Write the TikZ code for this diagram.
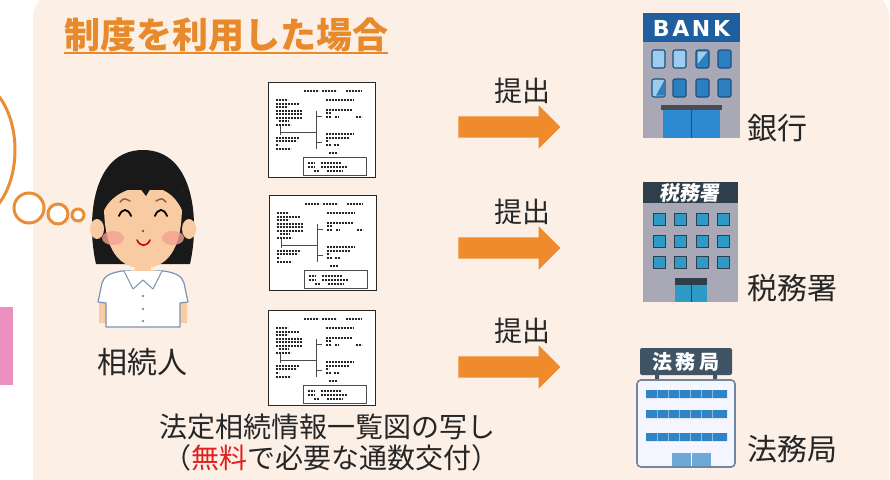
\documentclass[tikz,border=0pt]{standalone}
\usepackage{fontspec}
\newfontfamily\jp{Noto Sans CJK JP}
\newfontfamily\banksf[LetterSpace=12]{DejaVu Sans}
\usetikzlibrary{positioning,shapes.arrows}

\definecolor{panel}{HTML}{FCF0E6}
\definecolor{titleor}{HTML}{E8892B}
\definecolor{arrowor}{HTML}{EF8A2D}
\definecolor{freered}{HTML}{E0201C}
\definecolor{bubble}{HTML}{EA8E35}
\definecolor{pinkbar}{HTML}{EB8FBE}
\definecolor{skin}{HTML}{F8CBA3}
\definecolor{cheek}{HTML}{F3A193}
\definecolor{brow}{HTML}{8A5A3A}
\definecolor{shirtln}{HTML}{7D93B5}
\definecolor{bankblue}{HTML}{1F5FA0}
\definecolor{wall}{HTML}{A9A8B6}
\definecolor{winlight}{HTML}{9CCDEE}
\definecolor{windark}{HTML}{2C80C2}
\definecolor{winedge}{HTML}{1C4F7C}
\definecolor{doorblue}{HTML}{2B8AD0}
\definecolor{slate}{HTML}{2F3E4B}
\definecolor{taxwin}{HTML}{2E9BC6}
\definecolor{signgray}{HTML}{3F5566}
\definecolor{bureauln}{HTML}{6D87A0}
\definecolor{barblue}{HTML}{2F84C6}

\tikzset{
  txt/.style={draw=black!85, line width=2pt, dash pattern=on 2.2pt off 0.8pt},
  chart/.pic={
    \begin{scope}[shift={(-53.5,-47.5)}]
      \draw[txt] (35,8) -- (50,8) (53,8) -- (68,8) (77,8) -- (93,8);
      \draw[txt] (7,17) -- (19,17) (7,21) -- (30,21) (7,24) -- (19,24) (7,28) -- (33,28)
                 (7,31) -- (33,31) (7,35) -- (33,35) (10,38) -- (20,38) (7,42) -- (22,42);
      \draw[txt] (57,17) -- (85,17) (57,27) -- (83,27) (57,30) -- (62,30) (57,34) -- (62,34)
                 (66,34) -- (70,34) (87,34) -- (93,34);
      \draw[txt] (57,51) -- (85,51) (57,55) -- (80,55) (57,58) -- (60,58) (57,62) -- (62,62)
                 (65,62) -- (70,62);
      \draw[txt] (7,55) -- (30,55) (7,58) -- (28,58) (7,62) -- (10,62) (7,66) -- (22,66)
                 (60,70) -- (68,70);
      \draw[black!70, line width=0.6pt] (12,43) -- (12,52) (12,50) -- (48,50) (48,28) -- (48,66)
                 (48,34) -- (53,34) (48,60) -- (53,60);
      \draw[black!70, line width=0.7pt] (35,75) rectangle (98,93);
      \draw[txt] (39,80) -- (46,80) (52,80) -- (72,80) (39,84) -- (46,84) (52,84) -- (78,84)
                 (45,88) -- (50,88) (58,88) -- (74,88);
    \end{scope}
  }
}

\begin{document}
\begin{tikzpicture}[x=1pt,y=-1pt,every node/.style={inner sep=0pt},
    lbl/.style={font=\jp\fontsize{30}{32}\selectfont, text=black!85},
    say/.style={font=\jp\fontsize{28}{30}\selectfont, text=black!85},
    sheet/.style={draw=black!85, line width=1.2pt, fill=white, minimum width=107pt, minimum height=95pt},
    sarrow/.style={single arrow, fill=arrowor, minimum height=102pt, minimum width=43pt,
      inner xsep=0pt, inner ysep=10.5pt, single arrow head extend=11pt, single arrow head indent=0pt},
    win/.style={rounded corners=2pt, draw=winedge, line width=1.1pt},
    taxw/.style={draw=slate, line width=1pt, fill=taxwin}]

\useasboundingbox (0,0) rectangle (890,479);
\clip (0,0) rectangle (890,479);
\fill[white] (0,0) rectangle (890,479);
\fill[panel, rounded corners=30pt] (33,-12) rectangle (889,510);

% thought bubble and side tab
\fill[pinkbar] (0,307) rectangle (13,385);
\draw[bubble, line width=3pt, fill=white] (-30,150) circle[x radius=45, y radius=70];
\draw[bubble, line width=3pt, fill=white] (29,208) circle (15);
\draw[bubble, line width=3pt, fill=white] (58,214) circle (10);
\draw[bubble, line width=3pt, fill=white] (78,215) circle (6);

% title
\node[font=\jp\bfseries\fontsize{36}{38}\selectfont, text=titleor] (ttl) at (226,35) {制度を利用した場合};
\draw[titleor, line width=2pt] ([yshift=-1pt]ttl.south west) -- ([yshift=-1pt]ttl.south east);

% heir
\fill[black!90] (96,264) .. controls (86,220) and (92,150) .. (143,150)
  .. controls (194,150) and (200,220) .. (190,264) -- cycle;
\fill[skin] (135,255) rectangle (151,276);
\fill[skin] (104,205) .. controls (104,252) and (120,268) .. (143,268)
  .. controls (166,268) and (182,252) .. (182,205) -- (182,190) -- (104,190) -- cycle;
\fill[black!90] (102,215) .. controls (100,175) and (118,160) .. (143,160)
  .. controls (170,160) and (186,178) .. (184,215) .. controls (178,198) and (168,190) .. (152,186)
  -- (146,196) -- (139,187) .. controls (122,190) and (108,198) .. (102,215) -- cycle;
\fill[skin] (97,229) circle[x radius=7, y radius=10] (189,229) circle[x radius=7, y radius=10];
\fill[cheek, opacity=.8] (113,238) circle[x radius=11, y radius=7] (173,238) circle[x radius=11, y radius=7];
\draw[black, line width=1.8pt, line cap=round] (119,216) .. controls (122,208) and (128,208) .. (131,216)
  (155,216) .. controls (158,208) and (164,208) .. (167,216);
\draw[brow, line width=1.4pt, line cap=round] (120,202) .. controls (124,198) .. (130,201)
  (156,201) .. controls (162,198) .. (166,202);
\fill[brow!70!red] (143,231) circle (1.3);
\draw[red!80!black, line width=1.6pt, line cap=round] (137,240) .. controls (140,247) and (147,247) .. (150,240);
\fill[skin] (99,298) rectangle (107,323) (179,298) rectangle (187,323);
\filldraw[fill=white, draw=shirtln, line width=1.2pt, line join=round] (98,302) -- (102,283)
  .. controls (104,276) and (110,273) .. (122,271) -- (164,271) .. controls (176,273) and (182,276) .. (184,283)
  -- (188,302) -- (180,303) -- (180,327) -- (106,327) -- (106,303) -- cycle;
\fill[skin] (130,270) -- (143,281) -- (156,270) -- cycle;
\draw[shirtln, fill=white, line width=1pt, line join=round] (124,271) -- (133,289) -- (143,280) -- (153,289) -- (162,271);
\fill[shirtln] (143,296) circle (1.3) (143,309) circle (1.3) (143,321) circle (1.3);
\node[lbl] (heir) at (142,362) {相続人};

% certificates
\node[sheet] (doc1) at (322,130) {};
\node[sheet] (doc2) at (323,243) {};
\node[sheet] (doc3) at (322,358) {};
\pic at (doc1) {chart};
\pic at (doc2) {chart};
\pic at (doc3) {chart};
\node[say] (cap1) at (327,427) {法定相続情報一覧図の写し};
\node[say] (cap2) at (331,458) {（\textcolor{freered}{無料}で必要な通数交付）};

% submission arrows
\node[sarrow] (a1) at (504,127) {};
\node[sarrow] (a2) at (504,248) {};
\node[sarrow] (a3) at (504,367) {};
\node[say, above=12pt of a1, xshift=18pt] (s1) {提出};
\node[say, above=12pt of a2, xshift=18pt] (s2) {提出};
\node[say, above=12pt of a3, xshift=18pt] (s3) {提出};

% bank
\fill[wall] (643,42) rectangle (740,138);
\fill[bankblue] (643,13) rectangle (740,42);
\node[font=\banksf\bfseries\fontsize{22}{22}\selectfont, text=white] (banksign) at (691.5,28) {BANK};
\foreach \x/\c in {652/winlight,673/winlight,696/windark,718/windark}
  \filldraw[win, fill=\c] (\x,50) rectangle ++(13,18);
\foreach \x/\c in {652/winlight,673/windark,696/windark,718/windark}
  \filldraw[win, fill=\c] (\x,79) rectangle ++(13,18);
\fill[winlight] (697.5,51.5) -- (707.5,51.5) -- (697.5,64) -- cycle;
\fill[windark] (664,81) -- (664,95.5) -- (656,95.5) -- cycle;
\fill[black!55!wall] (661,105) rectangle (722,110);
\fill[doorblue] (663,110) rectangle (720,138);
\draw[winedge, line width=1pt] (691.5,110) -- (691.5,138);
\node[lbl, anchor=west] (bank) at (747,128) {銀行};

% tax office
\fill[wall] (643,203) rectangle (738,302);
\fill[slate] (643,182) rectangle (738,203);
\node[font=\jp\bfseries\fontsize{20}{20}\selectfont, text=white, xslant=0.15] (taxsign) at (690.5,193) {税務署};
\foreach \y in {213,235,256}
  \foreach \x in {653,674,696,717}
    \filldraw[taxw] (\x,\y) rectangle ++(12,12);
\fill[taxwin] (675,278) rectangle (707,302);
\fill[slate] (675,278) rectangle (707,285);
\draw[slate, line width=0.8pt] (691,285) -- (691,302);
\node[lbl, anchor=west] (tax) at (747,288) {税務署};

% legal affairs bureau
\fill[signgray] (655,374) rectangle (659,381) (713,374) rectangle (717,381);
\fill[signgray, rounded corners=2pt] (640,348) rectangle (732,375);
\node[font=\jp\bfseries\fontsize{20}{20}\selectfont, text=white] (lawsign) at (686,361.5) {法\,務\,局};
\filldraw[fill=white!96!blue, draw=bureauln, line width=1.6pt, rounded corners=4pt] (637,380) rectangle (735,467);
\fill[barblue] (646,390) rectangle (727,398) (646,410) rectangle (727,418) (646,433) rectangle (727,441);
\foreach \x in {657,668,...,718}
  \draw[white!45!barblue, line width=0.6pt] (\x,390) -- (\x,398) (\x,410) -- (\x,418) (\x,433) -- (\x,441);
\fill[barblue!70!white] (672,453) rectangle (711,466);
\draw[white, line width=0.8pt] (691.5,453) -- (691.5,466);
\node[lbl, anchor=west] (bureau) at (747,449) {法務局};
\end{tikzpicture}
\end{document}
